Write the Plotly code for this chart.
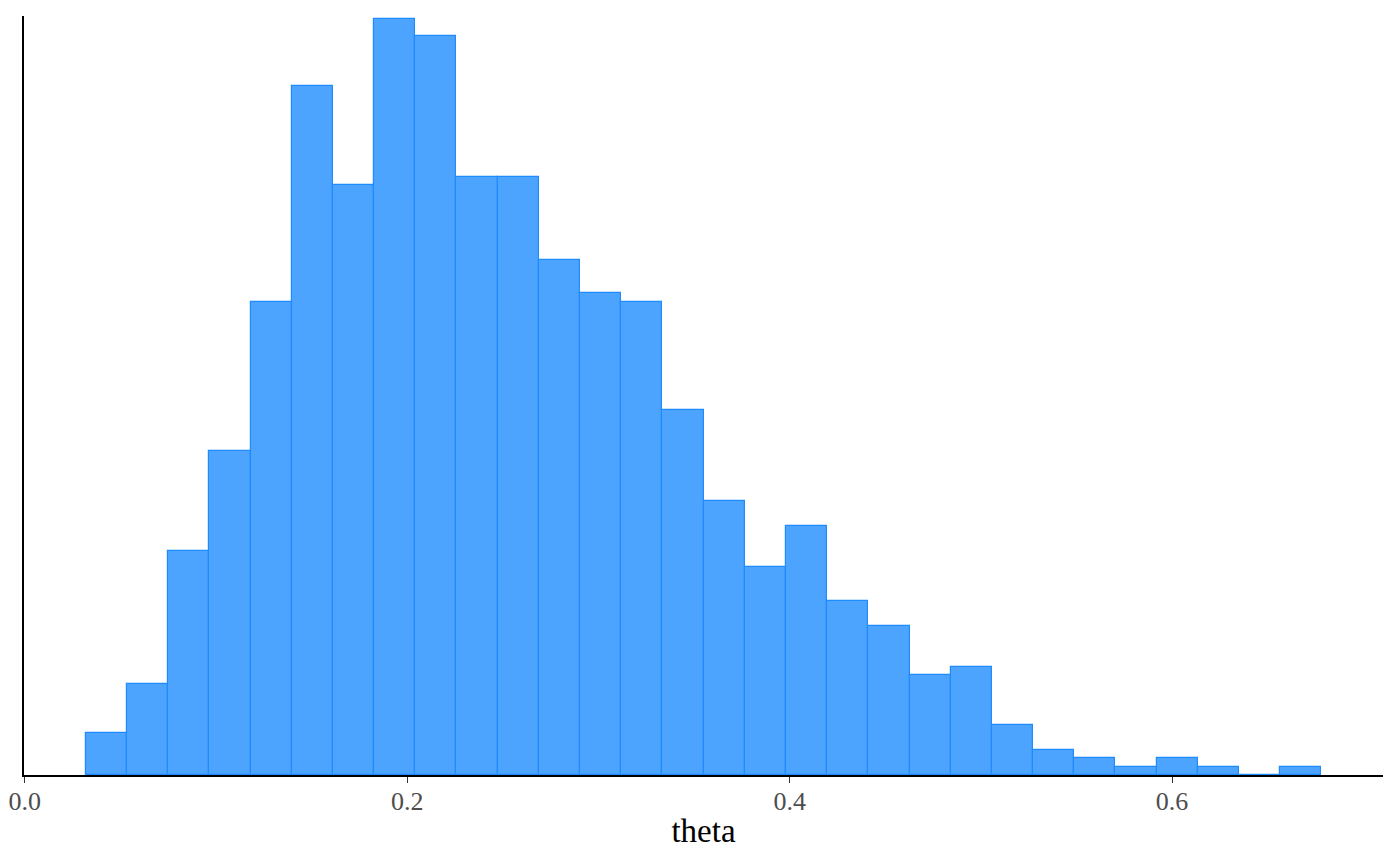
import numpy as np
import plotly.graph_objects as go

# histogram of posterior draws for theta (30 bins)
bin_start = 0.0319
bin_width = 0.02154
counts = [5, 11, 27, 39, 57, 83, 71, 91, 89, 72,
          72, 62, 58, 57, 44, 33, 25, 30, 21, 18,
          12, 13, 6, 3, 2, 1, 2, 1, 0, 1]
x_ticks = [0.0, 0.2, 0.4, 0.6]
x_tick_labels = ["0.0", "0.2", "0.4", "0.6"]

centers = bin_start + bin_width * (np.arange(len(counts)) + 0.5)

fig = go.Figure(go.Bar(
    x=centers, y=counts, width=bin_width,
    marker=dict(color="#4DA4FF", line=dict(color="#1E8CFF", width=1.2)),
    showlegend=False,
))

# page body adds an 8px offset, so the figure is a bit smaller than the window
fig.update_layout(
    width=1392, height=858,
    margin=dict(l=16, r=17, t=8, b=91),
    plot_bgcolor="white", paper_bgcolor="white",
    font=dict(family="Liberation Serif"),
    bargap=0,
)
fig.update_xaxes(
    range=[-0.0004, 0.7103], automargin=False,
    tickvals=x_ticks, ticktext=x_tick_labels,
    ticks="outside", ticklen=6, tickwidth=1, tickcolor="#333333",
    tickfont=dict(size=26, color="#4D4D4D", family="Liberation Serif"),
    ticklabelstandoff=-4,
    showline=True, linecolor="black", linewidth=2,
    showgrid=False, zeroline=False,
    title=dict(text="theta", font=dict(size=33, color="black", family="Liberation Serif"), standoff=4),
)
fig.update_yaxes(
    range=[0, 91.4], automargin=False,
    showticklabels=False, ticks="",
    showline=True, linecolor="black", linewidth=2,
    showgrid=False, zeroline=False,
)

fig.write_html("out.html")
